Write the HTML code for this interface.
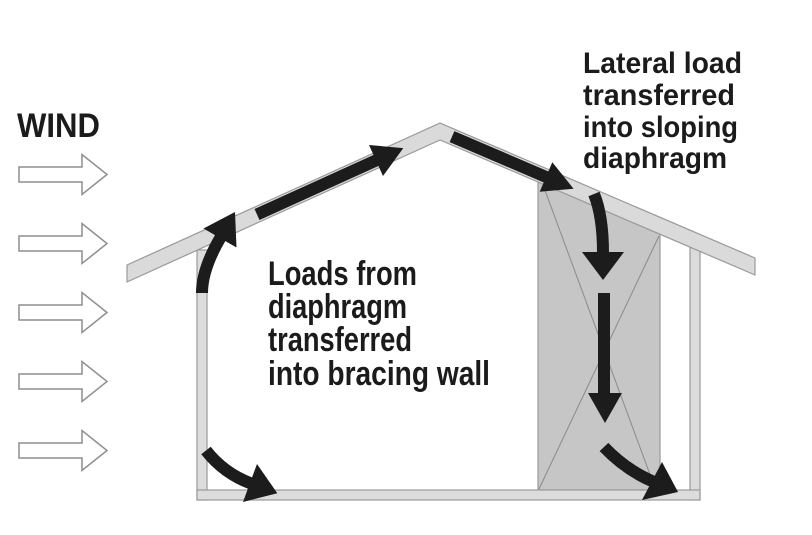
<!DOCTYPE html>
<html>
<head>
<meta charset="utf-8">
<style>
  html,body{margin:0;padding:0;background:#fff;}
  svg{display:block;}
  text{font-family:"Liberation Sans",Arial,sans-serif;font-weight:bold;fill:#1b1b1b;}
</style>
</head>
<body>
<svg width="812" height="535" viewBox="0 0 812 535" xmlns="http://www.w3.org/2000/svg">
  <rect width="812" height="535" fill="#fff"/>

  <!-- Wind arrows -->
  <g fill="#fff" stroke="#8e8e8e" stroke-width="1.5" stroke-linejoin="miter">
    <polygon points="19,167 82,167 82,154.5 107,174.5 82,194.5 82,182 19,182"/>
    <polygon points="19,236 82,236 82,223.5 107,243.5 82,263.5 82,251 19,251"/>
    <polygon points="19,305 82,305 82,292.5 107,312.5 82,332.5 82,320 19,320"/>
    <polygon points="19,374 82,374 82,361.5 107,381.5 82,401.5 82,389 19,389"/>
    <polygon points="19,443 82,443 82,430.5 107,450.5 82,470.5 82,458 19,458"/>
  </g>

  <!-- Bracing panel -->
  <polygon points="538,182 660,234 660,490 538,490" fill="#c6c6c6" stroke="#9a9a9a" stroke-width="1.2"/>
  <line x1="543" y1="185" x2="655" y2="488" stroke="#8a8a8a" stroke-width="1"/>
  <line x1="659" y1="236" x2="539" y2="489" stroke="#8a8a8a" stroke-width="1"/>

  <!-- Walls -->
  <rect x="197" y="250" width="10" height="250" fill="#dcdcdc" stroke="#999" stroke-width="1.2"/>
  <rect x="690" y="246" width="10" height="254" fill="#dcdcdc" stroke="#999" stroke-width="1.2"/>
  <!-- Floor -->
  <rect x="197" y="490" width="503" height="10" fill="#dcdcdc" stroke="#999" stroke-width="1.2"/>

  <!-- Roof -->
  <polygon points="127,265 440,123 755,258 755,275 440,140 127,282" fill="#dadada" stroke="#999" stroke-width="1.2" stroke-linejoin="round"/>

  <!-- Black arrows -->
  <g fill="#1c1c1c" stroke="none">
    <!-- left roof straight arrow -->
    <line x1="257" y1="214.5" x2="377" y2="160" stroke="#1c1c1c" stroke-width="12"/>
    <polygon points="369,145 383,176 403.3,148.1"/>
    <!-- right roof straight arrow -->
    <line x1="452" y1="136.6" x2="547" y2="177.4" stroke="#1c1c1c" stroke-width="12"/>
    <polygon points="552.3,162.3 539.7,191.7 573.6,188.8"/>
    <!-- top-left curved arrow -->
    <path d="M202,293 Q202,269 220.5,237.5" fill="none" stroke="#1c1c1c" stroke-width="12"/>
    <polygon points="203.5,228.5 236.5,247.5 235,212"/>
    <!-- bottom-left curved arrow -->
    <path d="M206,450.5 Q223.7,473.2 251,483.5" fill="none" stroke="#1c1c1c" stroke-width="12"/>
    <polygon points="257,464 243,502 277.3,493.2"/>
    <!-- panel top curved arrow -->
    <path d="M594,194 Q603,216 603,253" fill="none" stroke="#1c1c1c" stroke-width="12"/>
    <polygon points="582,252 624,252 603,280"/>
    <!-- panel straight arrow -->
    <rect x="598" y="293" width="12" height="101"/>
    <polygon points="588,393 622,393 605,423"/>
    <!-- panel bottom curved arrow -->
    <path d="M604,447 Q626,470 653,481.5" fill="none" stroke="#1c1c1c" stroke-width="12"/>
    <polygon points="662,462 642,500 678,492"/>
  </g>

  <!-- Text -->
  <text x="17" y="137" font-size="34" textLength="83" lengthAdjust="spacingAndGlyphs">WIND</text>

  <text x="268" y="285" font-size="34" textLength="149" lengthAdjust="spacingAndGlyphs">Loads from</text>
  <text x="268" y="318" font-size="34" textLength="139" lengthAdjust="spacingAndGlyphs">diaphragm</text>
  <text x="268" y="351" font-size="34" textLength="144" lengthAdjust="spacingAndGlyphs">transferred</text>
  <text x="268" y="385" font-size="34" textLength="222" lengthAdjust="spacingAndGlyphs">into bracing wall</text>

  <text x="583" y="73" font-size="30" textLength="159" lengthAdjust="spacingAndGlyphs">Lateral load</text>
  <text x="583" y="105" font-size="30" textLength="152" lengthAdjust="spacingAndGlyphs">transferred</text>
  <text x="583" y="137" font-size="30" textLength="155" lengthAdjust="spacingAndGlyphs">into sloping</text>
  <text x="583" y="168" font-size="30" textLength="144" lengthAdjust="spacingAndGlyphs">diaphragm</text>
</svg>
</body>
</html>
